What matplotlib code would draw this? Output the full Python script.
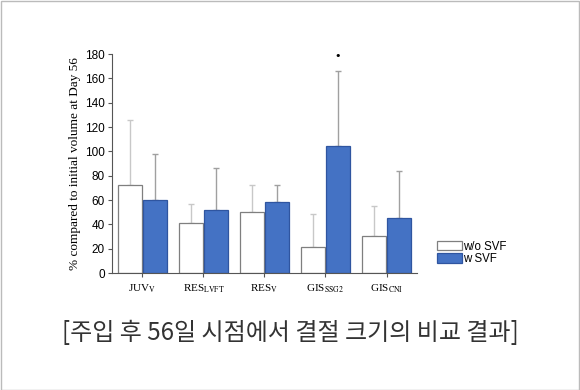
import numpy as np
import matplotlib.pyplot as plt
from matplotlib.patches import Rectangle

plt.rcParams['mathtext.fontset'] = 'stix'

groups = [r'JUV$_\mathrm{V}$', r'RES$_\mathrm{LVFT}$', r'RES$_\mathrm{V}$',
          r'GIS$_\mathrm{SSG2}$', r'GIS$_\mathrm{CNI}$']
wo_svf = [72, 41.5, 50, 21.5, 30.5]
wo_err = [54, 15, 22.5, 27, 24.5]
w_svf = [60, 51.5, 58, 104.5, 45]
w_err = [38, 34.5, 14.5, 61.5, 39]
star_y = 178

fig = plt.figure(figsize=(5.8, 3.9), dpi=100)
ax = fig.add_axes([0.193, 0.30, 0.526, 0.5615])

x = np.arange(len(groups))
bw = 0.39
ax.bar(x - bw / 2 - 0.01, wo_svf, bw, color='white', edgecolor='#7f7f7f',
       linewidth=0.9, label='w/o SVF', zorder=2)
ax.bar(x + bw / 2 + 0.01, w_svf, bw, color='#4472c4', edgecolor='#2f55a0',
       linewidth=0.9, label='w SVF', zorder=2)
ax.errorbar(x - bw / 2 - 0.01, wo_svf, yerr=[np.zeros(5), wo_err], fmt='none',
            ecolor='#c8c8c8', elinewidth=1, capsize=2, capthick=1, zorder=1)
ax.errorbar(x + bw / 2 + 0.01, w_svf, yerr=[np.zeros(5), w_err], fmt='none',
            ecolor='#a0a0a0', elinewidth=1, capsize=2, capthick=1, zorder=1)
ax.text(3 + bw / 2 + 0.01, star_y, '•', ha='center', va='center', fontsize=8)

ax.set_xlim(-0.5, 4.5)
ax.set_ylim(0, 180)
ax.set_yticks(range(0, 181, 20))
ax.set_xticks(x)
ax.set_xticklabels(groups, family='Liberation Serif', fontsize=8)
ax.tick_params(axis='y', labelsize=8.5, length=3, color='#555555', pad=2)
ax.tick_params(axis='x', length=3, color='#555555', pad=4)
for lbl in ax.get_yticklabels():
    lbl.set_family('Liberation Sans')
ax.spines['top'].set_visible(False)
ax.spines['right'].set_visible(False)
ax.spines['left'].set_color('#555555')
ax.spines['bottom'].set_color('#555555')
ax.set_ylabel('% compared to initial volume at Day 56', family='Liberation Serif',
              fontsize=9.5, labelpad=3)

ax.legend(loc='lower left', bbox_to_anchor=(1.05, 0.015), frameon=False,
          handlelength=2.2, handleheight=0.9, handletextpad=0.1,
          labelspacing=0.05, borderaxespad=0, prop={'family': 'Liberation Sans', 'size': 8.3})

fig.text(0.5, 0.146, '[주입 후 56일 시점에서 결절 크기의 비교 결과]',
         ha='center', va='center', fontsize=17.3, color='#333333',
         family=['Noto Sans CJK KR', 'DejaVu Sans'])

fig.add_artist(Rectangle((0.001, 0.001), 0.997, 0.996, transform=fig.transFigure,
                         fill=False, edgecolor='#bbbbbb', linewidth=1))

fig.savefig('out.png', dpi=100)
